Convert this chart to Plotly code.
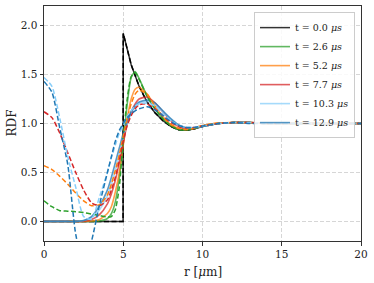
import plotly.graph_objects as go

# r grid (micrometres)
r = [0, 0.5, 1, 1.5, 2, 2.5, 3, 3.5, 4, 4.25, 4.5, 4.75, 5, 5.25, 5.5, 5.75, 6, 6.5, 7, 7.5,
     8, 8.5, 9, 9.5, 10, 11, 12, 13, 14, 15, 16, 17, 18, 19, 20]

# t = 0 (step profile)
r0 = [0, 4.99, 5.0, 5.5, 6, 6.5, 7, 7.5, 8, 8.5, 9, 9.5, 10, 11, 12, 13, 14, 15, 16, 17, 18, 19, 20]
g0 = [0, 0, 1.92, 1.6, 1.38, 1.22, 1.11, 1.03, 0.97, 0.935, 0.93, 0.945, 0.97, 1.0, 1.01, 1.01, 1.0,
      1.0, 1.0, 1.0, 1.0, 1.0, 1.0]

labels = ["t = 0.0 <i>μs</i>", "t = 2.6 <i>μs</i>", "t = 5.2 <i>μs</i>",
          "t = 7.7 <i>μs</i>", "t = 10.3 <i>μs</i>", "t = 12.9 <i>μs</i>"]
colors = ["#000000", "#2ca02c", "#ff7f0e", "#d62728", "#87cefa", "#1f77b4"]

g_sim = {
    "2.6": [0, 0, 0, 0, 0, 0, 0, 0.005, 0.03, 0.08, 0.2, 0.45, 0.8, 1.2, 1.47, 1.53, 1.46, 1.28, 1.15,
            1.05, 0.98, 0.94, 0.935, 0.95, 0.975, 1.0, 1.01, 1.01, 1.0, 1.0, 1.0, 1.0, 1.0, 1.0, 1.0],
    "5.2": [0, 0, 0, 0, 0, 0, 0.005, 0.02, 0.08, 0.15, 0.3, 0.5, 0.78, 1.05, 1.25, 1.35, 1.37, 1.3,
            1.18, 1.07, 0.99, 0.95, 0.94, 0.955, 0.98, 1.005, 1.01, 1.01, 1.0, 1.0, 1.0, 1.0, 1.0, 1.0, 1.0],
    "7.7": [0, 0, 0, 0, 0, 0.003, 0.02, 0.07, 0.18, 0.28, 0.42, 0.6, 0.8, 1.0, 1.12, 1.2, 1.25, 1.27,
            1.21, 1.12, 1.03, 0.97, 0.945, 0.95, 0.975, 1.0, 1.01, 1.01, 1.0, 1.0, 1.0, 1.0, 1.0, 1.0, 1.0],
    "10.3": [0, 0, 0, 0, 0, 0.01, 0.04, 0.12, 0.26, 0.38, 0.52, 0.68, 0.85, 1.0, 1.1, 1.17, 1.21, 1.23,
             1.2, 1.12, 1.04, 0.98, 0.955, 0.955, 0.97, 1.0, 1.01, 1.01, 1.0, 1.0, 1.0, 1.0, 1.0, 1.0, 1.0],
    "12.9": [0, 0, 0, 0, 0, 0.01, 0.05, 0.16, 0.32, 0.45, 0.6, 0.75, 0.9, 1.02, 1.12, 1.18, 1.22, 1.24,
             1.21, 1.13, 1.05, 0.985, 0.955, 0.955, 0.97, 1.0, 1.01, 1.01, 1.0, 1.0, 1.0, 1.0, 1.0, 1.0, 1.0],
}

g_theory = {
    "2.6": [0.21, 0.15, 0.11, 0.105, 0.1, 0.09, 0.075, 0.06, 0.045, 0.05, 0.12, 0.35, 0.85, 1.25, 1.48,
            1.52, 1.45, 1.28, 1.15, 1.05, 0.98, 0.94, 0.935, 0.95, 0.975, 1.0, 1.01, 1.01, 1.0, 1.0, 1.0,
            1.0, 1.0, 1.0, 1.0],
    "5.2": [0.57, 0.53, 0.46, 0.38, 0.29, 0.21, 0.16, 0.17, 0.27, 0.38, 0.52, 0.68, 0.87, 1.05, 1.2,
            1.3, 1.34, 1.3, 1.18, 1.07, 0.99, 0.95, 0.94, 0.955, 0.98, 1.005, 1.01, 1.01, 1.0, 1.0, 1.0,
            1.0, 1.0, 1.0, 1.0],
    "7.7": [1.12, 1.06, 0.9, 0.7, 0.5, 0.32, 0.19, 0.16, 0.22, 0.32, 0.45, 0.62, 0.82, 0.98, 1.08, 1.15,
            1.19, 1.2, 1.15, 1.08, 1.01, 0.97, 0.955, 0.96, 0.975, 1.0, 1.01, 1.01, 1.0, 1.0, 1.0, 1.0,
            1.0, 1.0, 1.0],
    "10.3": [1.47, 1.38, 1.05, 0.66, 0.35, 0.05, 0.02, 0.25, 0.5, 0.65, 0.78, 0.9, 0.98, 1.07, 1.13,
             1.18, 1.2, 1.21, 1.18, 1.1, 1.03, 0.98, 0.96, 0.96, 0.975, 1.0, 1.01, 1.01, 1.0, 1.0, 1.0,
             1.0, 1.0, 1.0, 1.0],
    "12.9": [1.43, 1.32, 0.95, 0.58, -0.13, -0.45, -0.2, 0.17, 0.5, 0.66, 0.82, 0.93, 1.0, 1.06, 1.1,
             1.13, 1.15, 1.17, 1.14, 1.08, 1.02, 0.98, 0.96, 0.96, 0.975, 1.0, 1.01, 1.0, 1.0, 1.0, 1.0,
             1.0, 1.0, 1.0, 1.0],
}

times = ["2.6", "5.2", "7.7", "10.3", "12.9"]

fig = go.Figure()
DASH = "5px,2.5px"

# t = 0
fig.add_trace(go.Scatter(x=r0, y=g0, mode="lines", name=labels[0],
                         line=dict(color=colors[0], width=1.5), opacity=0.8))
fig.add_trace(go.Scatter(x=r0, y=g0, mode="lines", showlegend=False,
                         line=dict(color=colors[0], width=1.5, dash=DASH)))

for i, t in enumerate(times):
    c = colors[i + 1]
    fig.add_trace(go.Scatter(x=r, y=g_sim[t], mode="lines", name=labels[i + 1],
                             line=dict(color=c, width=1.6, shape="spline", smoothing=0.6),
                             opacity=0.75))
for i, t in enumerate(times):
    c = colors[i + 1]
    fig.add_trace(go.Scatter(x=r, y=g_theory[t], mode="lines", showlegend=False,
                             line=dict(color=c, width=1.5, dash=DASH, shape="spline", smoothing=0.6)))

font_family = "DejaVu Serif"
axis_common = dict(showline=True, linecolor="#333333", linewidth=1, mirror=True,
                   ticks="outside", ticklen=3.5, tickcolor="#333333", automargin=False,
                   showgrid=True, gridcolor="#d6d6d6", griddash="4px,2px", gridwidth=0.8,
                   zeroline=False, tickfont=dict(size=10.5, color="#222222", family=font_family))

fig.update_layout(
    width=374, height=283,
    margin=dict(l=44, r=13, t=6, b=42),
    paper_bgcolor="white", plot_bgcolor="white",
    font=dict(family=font_family, color="#222222", size=11),
    showlegend=True,
    legend=dict(x=0.981, y=0.974, xanchor="right", yanchor="top",
                bgcolor="rgba(255,255,255,0.85)", bordercolor="#cccccc", borderwidth=1,
                font=dict(size=9.5, family=font_family), tracegroupgap=0),
    xaxis=dict(range=[0, 20], tickvals=[0, 5, 10, 15, 20], ticktext=["0", "5", "10", "15", "20"],
               **axis_common),
    yaxis=dict(range=[-0.2, 2.2], tickvals=[0, 0.5, 1.0, 1.5, 2.0],
               ticktext=["0.0", "0.5", "1.0", "1.5", "2.0"], **axis_common),
    annotations=[
        dict(text="r [<i>μ</i>m]", xref="paper", yref="paper", x=0.5, y=0, yshift=-31,
             xanchor="center", yanchor="middle", showarrow=False,
             font=dict(size=12, family=font_family, color="#222222")),
        dict(text="RDF", xref="paper", yref="paper", x=0, y=0.5, xshift=-33,
             xanchor="center", yanchor="middle", showarrow=False, textangle=-90,
             font=dict(size=12, family=font_family, color="#222222")),
    ],
)

fig.write_html("out.html", config={"displayModeBar": False},
               post_script="document.body.style.margin='0';document.body.style.padding='0';")
